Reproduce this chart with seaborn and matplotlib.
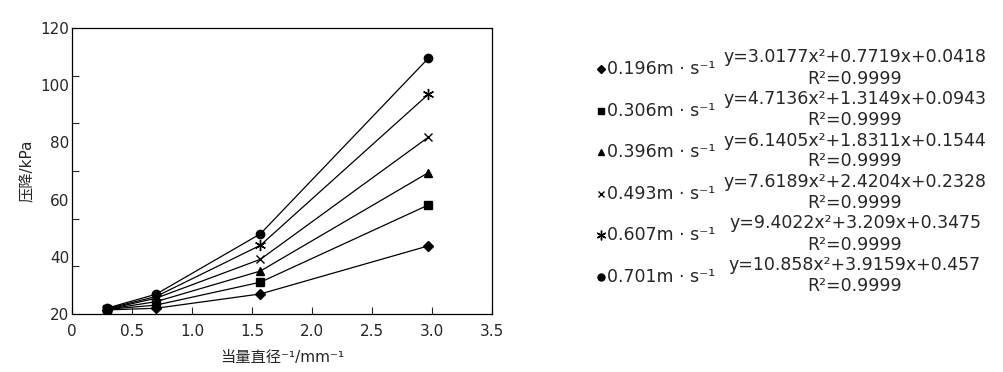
import numpy as np
import pandas as pd
import matplotlib
matplotlib.use("Agg")
import matplotlib.pyplot as plt
import seaborn as sns
from matplotlib.lines import Line2D

# dados
x_vals = [0.29, 0.70, 1.57, 2.97]
velocidades = ["0.196", "0.306", "0.396", "0.493", "0.607", "0.701"]
y_0196 = [21.4, 22.0, 27.0, 43.8]
y_0306 = [21.6, 23.1, 31.1, 58.1]
y_0396 = [21.6, 24.3, 35.0, 69.4]
y_0493 = [21.6, 25.5, 39.1, 81.8]
y_0607 = [21.8, 26.1, 44.0, 96.8]
y_0701 = [22.0, 26.9, 48.0, 109.4]
equacoes = [
    "y=3.0177x²+0.7719x+0.0418",
    "y=4.7136x²+1.3149x+0.0943",
    "y=6.1405x²+1.8311x+0.1544",
    "y=7.6189x²+2.4204x+0.2328",
    "y=9.4022x²+3.209x+0.3475",
    "y=10.858x²+3.9159x+0.457",
]
r2 = ["R²=0.9999"] * 6

sns.set_style("ticks")
plt.rcParams["font.family"] = ["DejaVu Sans", "Noto Sans CJK SC"]

series = [y_0196, y_0306, y_0396, y_0493, y_0607, y_0701]
df = pd.DataFrame({
    "x": np.tile(x_vals, len(velocidades)),
    "y": np.concatenate(series),
    "v": np.repeat(velocidades, len(x_vals)),
})

marcadores = {"0.196": "D", "0.306": "s", "0.396": "^",
              "0.493": "x", "0.607": (6, 2, 0), "0.701": "o"}
tamanhos = {"0.196": 5, "0.306": 6, "0.396": 6, "0.493": 6, "0.607": 8, "0.701": 6}

fig = plt.figure(figsize=(10.04, 3.72), dpi=100)
ax = fig.add_axes([0.0717, 0.156, 0.4183, 0.769])

for v in velocidades:
    sub = df[df["v"] == v]
    sns.lineplot(data=sub, x="x", y="y", ax=ax, color="black", lw=0.9,
                 marker=marcadores[v], markersize=tamanhos[v],
                 markeredgecolor="black", markerfacecolor="black",
                 markeredgewidth=1.0, legend=False)

ax.set_xlim(0, 3.5)
ax.set_ylim(20, 120)
ax.set_xticks(np.arange(0, 3.6, 0.5))
ax.set_xticklabels(["0", "0.5", "1.0", "1.5", "2.0", "2.5", "3.0", "3.5"])
ax.set_yticks([20, 40, 60, 80, 100, 120])
ax.set_yticks(np.linspace(20, 120, 7), minor=True)
ax.tick_params(axis="x", direction="in", length=5, width=0.8, labelsize=11, pad=7.5)
ax.tick_params(axis="y", which="major", length=0, labelsize=11, pad=2)
ax.tick_params(axis="y", which="minor", direction="in", length=5, width=0.8)
for s in ax.spines.values():
    s.set_linewidth(0.9)
    s.set_color("black")
ax.set_xlabel("当量直径⁻¹/mm⁻¹", fontsize=11, labelpad=8)
ax.set_ylabel("压降/kPa", fontsize=11, labelpad=4)

# legenda manual com equações
for i, v in enumerate(velocidades):
    yy = 1 - (69 + i * 41.6) / 372
    fig.add_artist(Line2D([601 / 1004], [yy], marker=marcadores[v], color="black",
                          markersize=tamanhos[v] - 1, markeredgewidth=1.0,
                          transform=fig.transFigure))
    fig.text(607 / 1004, yy, v + "m · s⁻¹", fontsize=12.5, va="center", ha="left")
    ye = 1 - (57.5 + i * 41.5) / 372
    fig.text(855 / 1004, ye, equacoes[i], fontsize=12.5, va="center", ha="center")
    fig.text(855 / 1004, ye - 21 / 372, r2[i], fontsize=12.5, va="center", ha="center")

fig.savefig("out.png", dpi=100)
